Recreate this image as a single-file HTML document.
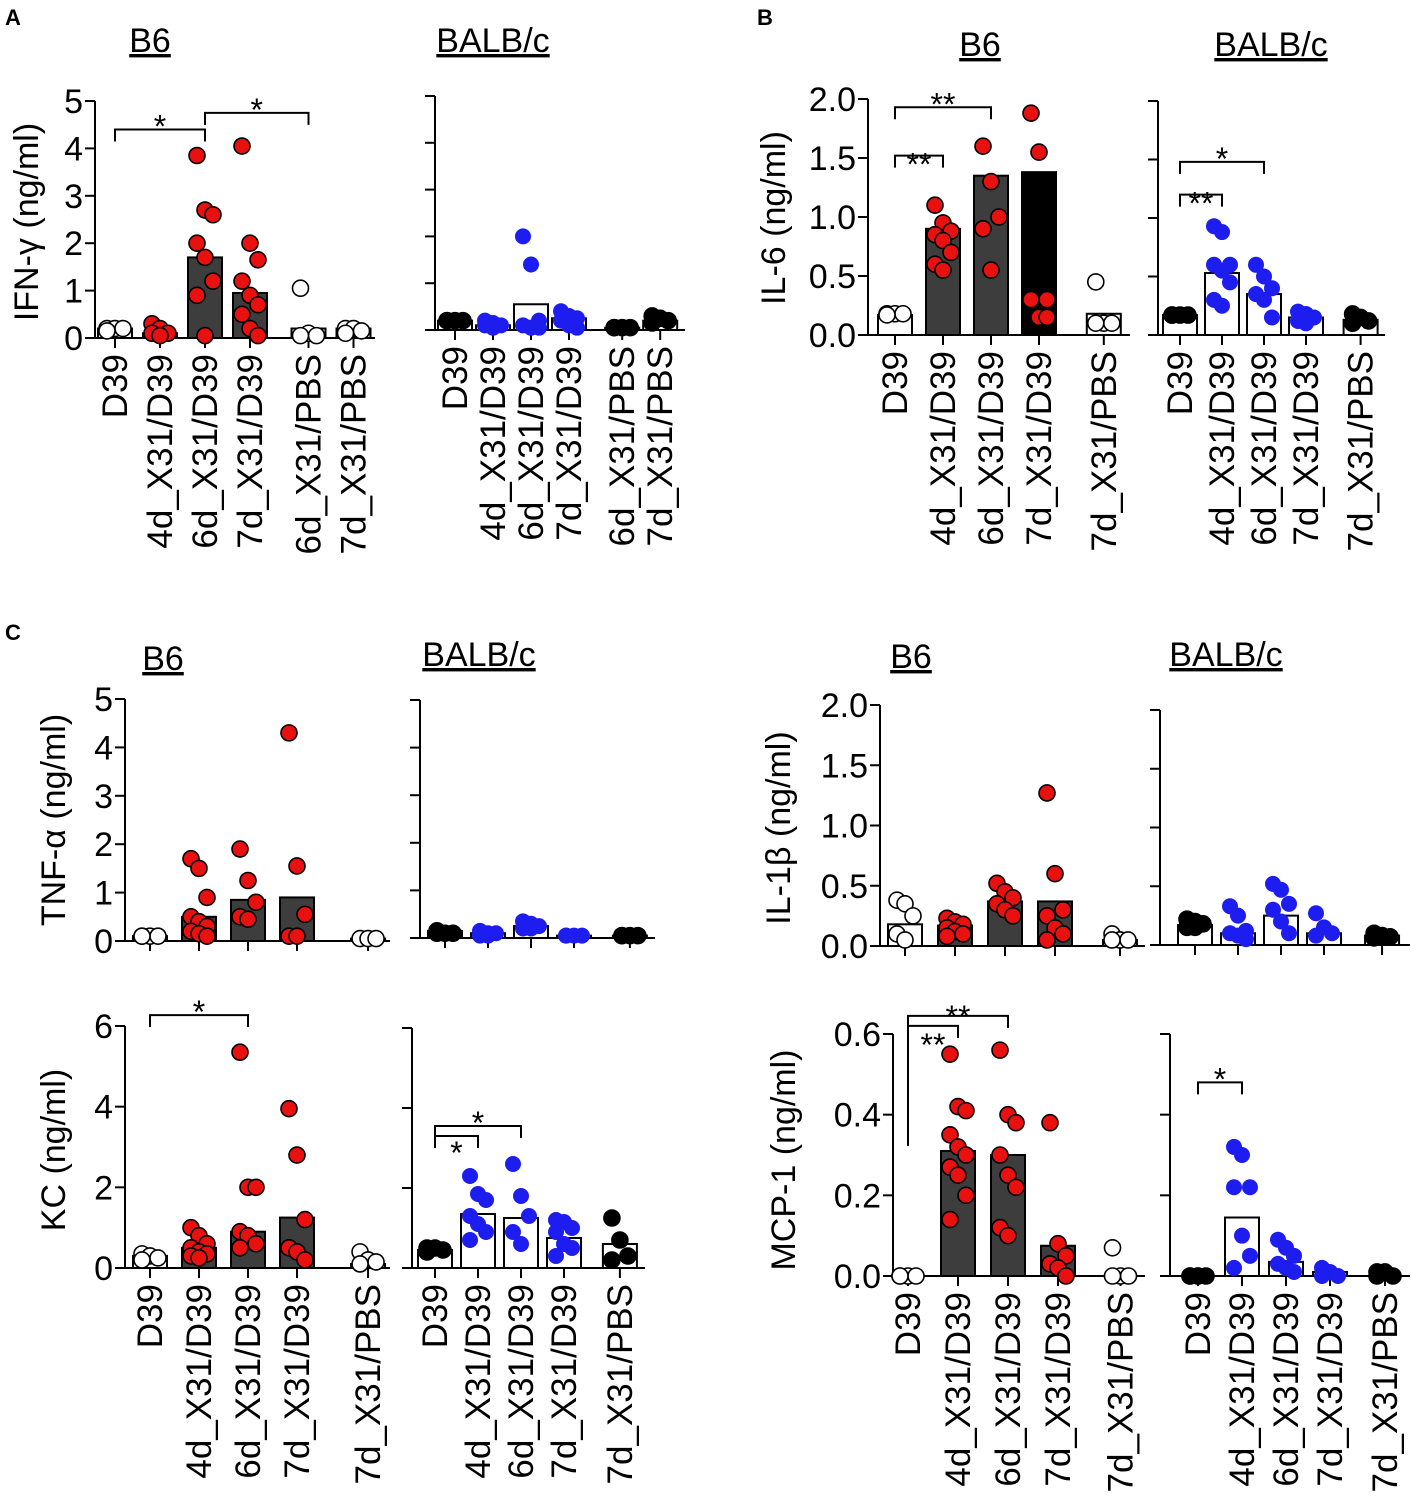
<!DOCTYPE html>
<html><head><meta charset="utf-8"><style>
body{margin:0;background:#fff}
svg{display:block;font-family:"Liberation Sans",Arial,sans-serif}
</style></head><body>
<svg id="fig" width="1413" height="1506" viewBox="0 0 1413 1506"></svg>
<script>
// ---- data (ng/ml) ----
const cats6 = ['D39','4d_X31/D39','6d_X31/D39','7d_X31/D39','6d_X31/PBS','7d_X31/PBS'];
const cats5 = ['D39','4d_X31/D39','6d_X31/D39','7d_X31/D39','7d_X31/PBS'];

const ifnB6Pts = [[0.2,0.2,0.2,0.15],[0.3,0.2,0.1,0.1,0.05],[3.85,2.7,2.6,2.0,1.7,1.2,0.9,0.05],[4.05,2.0,1.65,1.2,0.9,0.7,0.5,0.2,0.05],[1.05,0.1,0.05,0.05],[0.2,0.2,0.15,0.1]];
const ifnB6Bars = [0.2,0.1,1.7,0.95,0.2,0.2];
const ifnBalbPts = [[0.2,0.2,0.2,0.2],[0.2,0.15,0.1,0.1,0.05],[2.0,1.4,0.2,0.1,0.05,0.05],[0.4,0.3,0.25,0.2,0.1,0.05],[0.05,0.05,0.05,0.05],[0.3,0.25,0.2,0.15]];
const ifnBalbBars = [0.2,0.1,0.55,0.25,0.05,0.2];

const il6B6Pts = [[0.18,0.18,0.18,0.17],[1.1,0.95,0.88,0.85,0.8,0.7,0.6,0.55],[1.6,1.3,1.0,0.9,0.55],[1.88,1.55,0.3,0.3,0.15,0.15],[0.45,0.1,0.1,0.1]];
const il6B6Bars = [0.17,0.9,1.35,1.38,0.18];
const il6BalbPts = [[0.17,0.17,0.17,0.17],[0.93,0.88,0.6,0.6,0.55,0.45,0.3,0.25],[0.6,0.5,0.4,0.35,0.3,0.15],[0.2,0.18,0.15,0.12,0.1],[0.18,0.15,0.12,0.1]];
const il6BalbBars = [0.17,0.53,0.35,0.15,0.13];

const tnfB6Pts = [[0.1,0.1,0.1,0.1],[1.7,1.5,0.9,0.5,0.4,0.3,0.2,0.15,0.1],[1.9,1.25,0.8,0.5,0.45],[4.3,1.55,0.55,0.1,0.1],[0.05,0.05,0.05]];
const tnfB6Bars = [0.1,0.5,0.85,0.9,0.05];
const tnfBalbPts = [[0.15,0.1,0.1,0.1],[0.15,0.1,0.1,0.05,0.05],[0.35,0.3,0.25,0.2,0.2],[0.05,0.05,0.05,0.05],[0.05,0.05,0.05,0.05]];
const tnfBalbBars = [0.15,0.1,0.25,0.05,0.05];

const il1B6Pts = [[0.38,0.35,0.25,0.1,0.05],[0.23,0.2,0.18,0.15,0.12,0.1,0.08],[0.52,0.45,0.4,0.35,0.3,0.25],[1.27,0.6,0.3,0.25,0.15,0.1,0.05],[0.1,0.05,0.05,0.05]];
const il1B6Bars = [0.18,0.17,0.37,0.37,0.05];
const il1BalbPts = [[0.22,0.2,0.18,0.15,0.15],[0.33,0.25,0.12,0.1,0.08,0.05],[0.52,0.47,0.35,0.3,0.2,0.1],[0.27,0.15,0.1,0.08],[0.1,0.08,0.07,0.06]];
const il1BalbBars = [0.17,0.1,0.25,0.1,0.08];

const kcB6Pts = [[0.35,0.3,0.25,0.2],[1.0,0.8,0.6,0.5,0.4,0.35,0.3,0.25],[5.35,2.0,2.0,0.9,0.8,0.6,0.5],[3.95,2.8,1.2,0.5,0.4,0.2],[0.4,0.2,0.15,0.1]];
const kcB6Bars = [0.3,0.5,0.9,1.25,0.1];
const kcBalbPts = [[0.5,0.5,0.45,0.4],[2.3,1.85,1.7,1.3,1.1,0.9,0.7],[2.6,1.8,1.3,0.9,0.6],[1.2,1.15,1.0,0.9,0.6,0.5,0.3],[1.25,0.7,0.3,0.2]];
const kcBalbBars = [0.45,1.35,1.25,0.75,0.6];

const mcpB6Pts = [[0,0,0,0],[0.55,0.42,0.41,0.35,0.32,0.3,0.27,0.25,0.2,0.14],[0.56,0.4,0.38,0.3,0.25,0.22,0.12,0.1],[0.38,0.08,0.05,0.03,0.02,0.0],[0.07,0,0,0]];
const mcpB6Bars = [0,0.31,0.3,0.075,0];
const mcpBalbPts = [[0,0,0,0,0],[0.32,0.3,0.22,0.22,0.1,0.05,0.02],[0.09,0.07,0.05,0.03,0.02,0.01],[0.02,0.01,0,0],[0.01,0.01,0,0]];
const mcpBalbBars = [0,0.145,0.035,0.01,0];

// ---- drawing ----
const NS='http://www.w3.org/2000/svg';
const svg=document.getElementById('fig');
function mk(tag,attrs,parent,txt){const e=document.createElementNS(NS,tag);for(const k in attrs)e.setAttribute(k,attrs[k]);if(txt!==undefined)e.textContent=txt;(parent||svg).appendChild(e);return e;}

function panel(c){
  const g=mk('g',{});
  
  
  const ys=v=>c.y0-v/c.max*(c.y0-c.yTop);
  const xs=i=>c.x0+c.slots[i]*c.step;
  mk('line',{x1:c.ax,y1:c.yTop,x2:c.ax,y2:c.y0,stroke:'#000','stroke-width':2},g);
  c.ticks.forEach((t,i)=>{
    const y=ys(t);
    mk('line',{x1:c.ax-10,y1:y,x2:c.ax,y2:y,stroke:'#000','stroke-width':2},g);
    if(c.tickLabels){const tl=mk('text',{x:c.ax-12,y:y+12,'text-anchor':'end','font-size':34},g,c.tickLabels[i]);
      
      }
  });
  mk('line',{x1:c.ax,y1:c.y0,x2:c.xEnd,y2:c.y0,stroke:'#000','stroke-width':2},g);
  c.cats.forEach((cat,i)=>{
    const x=xs(i);
    mk('line',{x1:x,y1:c.y0,x2:x,y2:c.y0+10,stroke:'#000','stroke-width':2},g);
    const kind=c.barKinds[i];
    const bh=c.y0-ys(c.bars[i]);
    const b=mk('rect',{x:x-17,y:ys(c.bars[i]),width:34,height:Math.max(bh,0),fill:kind==='w'?'#fff':(kind==='k'?'#000':'#3d3d3d'),stroke:'#000','stroke-width':2},g);
    
    
    const pts=c.pts[i];
    const pc=c.ptKinds[i];
    pts.forEach((v,j)=>{
      const off=((j%3)-1)*8;
      const p=mk('circle',{cx:x+off,cy:ys(v),r:8,fill:pc==='w'?'#fff':pc==='r'?'#e8110f':pc==='b'?'#1d1df0':'#000',stroke:pc==='b'?'#1d1df0':'#000','stroke-width':pc==='b'?0:1.6},g);
      
      
    });
    if(c.xlab){
      const t=mk('text',{x:0,y:0,'text-anchor':'end','font-size':35,transform:`translate(${x+12},${c.y0+16}) rotate(-90)`},g,cat);
      
      
    }
  });
  (c.sig||[]).forEach(s=>{
    const y=ys(s.v), x1=xs(s.a), x2=xs(s.b);
    mk('path',{d:`M${x1},${y+(s.leg1||12)} L${x1},${y} L${x2},${y} L${x2},${y+12}`,fill:'none',stroke:'#000','stroke-width':2},g);
    const t=mk('text',{x:(x1+x2)/2,y:y+(s.dy||8),'text-anchor':'middle','font-size':32},g,s.t);
    
    
  });
  if(c.title){const t=mk('text',{x:c.title[1],y:c.title[2],'text-anchor':'middle','font-size':34,'text-decoration':'underline'},g,c.title[0]);
    
    }
  if(c.ytitle){const t=mk('text',{x:0,y:0,'text-anchor':'middle','font-size':34,transform:`translate(${c.ytitle[1]},${c.ytitle[2]}) rotate(-90)`},g,c.ytitle[0]);
    
    }
}
const bk6=['w','d','d','d','w','w'], bk5=['w','d','d','d','w'];
const ww6=['w','w','w','w','w','w'], ww5=['w','w','w','w','w'];
const pB6=['w','r','r','r','w','w'], pB5=['w','r','r','r','w'];
const pC6=['k','b','b','b','k','k'], pC5=['k','b','b','b','k'];
const t5=[0,1,2,3,4,5], tl5=['0','1','2','3','4','5'];
const s5=[0,1,2,3,4.4], s6=[0,1,2,3,4.3,5.3];

panel({name:'ifn-b6',ax:95,y0:338,yTop:101,max:5,ticks:t5,tickLabels:tl5,x0:115,step:45,slots:s6,xEnd:375,cats:cats6,bars:ifnB6Bars,pts:ifnB6Pts,barKinds:bk6,ptKinds:pB6,xlab:true,title:['B6',150,52],ytitle:['IFN-γ (ng/ml)',38,222],sig:[{a:0,b:2,v:4.4,t:'*'},{a:2,b:4,v:4.75,t:'*'}]});
panel({name:'ifn-balb',ax:435,y0:330,yTop:96,max:5,ticks:t5,x0:455,step:38,slots:[0,1,2,3,4.4,5.4],xEnd:685,cats:cats6,bars:ifnBalbBars,pts:ifnBalbPts,barKinds:ww6,ptKinds:pC6,xlab:true,title:['BALB/c',493,52]});

const t2=[0,0.5,1,1.5,2], tl2=['0.0','0.5','1.0','1.5','2.0'];
panel({name:'il6-b6',ax:868,y0:335,yTop:99,max:2,ticks:t2,tickLabels:tl2,x0:895,step:48,slots:[0,1,2,3,4.35],xEnd:1130,cats:cats5,bars:il6B6Bars,pts:il6B6Pts,barKinds:['w','d','d','k','w'],ptKinds:pB5,xlab:true,title:['B6',980,56],ytitle:['IL-6 (ng/ml)',785,218],sig:[{a:0,b:1,v:1.52,t:'**',dy:20},{a:0,b:2,v:1.93,t:'**',dy:8}]});
panel({name:'il6-balb',ax:1158,y0:335,yTop:101,max:2,ticks:t2,x0:1180,step:42,slots:[0,1,2,3,4.3],xEnd:1385,cats:cats5,bars:il6BalbBars,pts:il6BalbPts,barKinds:ww5,ptKinds:pC5,xlab:true,title:['BALB/c',1271,56],sig:[{a:0,b:1,v:1.2,t:'**',dy:20},{a:0,b:2,v:1.48,t:'*',dy:8}]});

panel({name:'tnf-b6',ax:125,y0:941,yTop:699,max:5,ticks:t5,tickLabels:tl5,x0:150,step:49,slots:[0,1,2,3,4.45],xEnd:390,cats:cats5,bars:tnfB6Bars,pts:tnfB6Pts,barKinds:bk5,ptKinds:pB5,xlab:false,title:['B6',163,670],ytitle:['TNF-α (ng/ml)',65,820]});
panel({name:'tnf-balb',ax:420,y0:938,yTop:700,max:5,ticks:t5,x0:445,step:43,slots:[0,1,2,3,4.3],xEnd:655,cats:cats5,bars:tnfBalbBars,pts:tnfBalbPts,barKinds:ww5,ptKinds:pC5,xlab:false,title:['BALB/c',479,666]});

panel({name:'il1b-b6',ax:880,y0:946,yTop:705,max:2,ticks:t2,tickLabels:tl2,x0:905,step:50,slots:[0,1,2,3,4.3],xEnd:1145,cats:cats5,bars:il1B6Bars,pts:il1B6Pts,barKinds:bk5,ptKinds:pB5,xlab:false,title:['B6',911,668],ytitle:['IL-1β (ng/ml)',790,828]});
panel({name:'il1b-balb',ax:1160,y0:945,yTop:710,max:2,ticks:t2,x0:1195,step:43,slots:[0,1,2,3,4.35],xEnd:1410,cats:cats5,bars:il1BalbBars,pts:il1BalbPts,barKinds:ww5,ptKinds:pC5,xlab:false,title:['BALB/c',1226,666]});

const t6=[0,2,4,6], tl6=['0','2','4','6'];
panel({name:'kc-b6',ax:125,y0:1268,yTop:1026,max:6,ticks:t6,tickLabels:tl6,x0:150,step:49,slots:[0,1,2,3,4.45],xEnd:390,cats:cats5,bars:kcB6Bars,pts:kcB6Pts,barKinds:bk5,ptKinds:pB5,xlab:true,ytitle:['KC (ng/ml)',65,1150],sig:[{a:0,b:2,v:6.27,t:'*'}]});
panel({name:'kc-balb',ax:412,y0:1268,yTop:1028,max:6,ticks:t6,x0:435,step:43,slots:[0,1,2,3,4.3],xEnd:645,cats:cats5,bars:kcBalbBars,pts:kcBalbPts,barKinds:ww5,ptKinds:pC5,xlab:true,sig:[{a:0,b:1,v:3.3,t:'*',dy:28},{a:0,b:2,v:3.55,t:'*',dy:8}]});

const t06=[0,0.2,0.4,0.6], tl06=['0.0','0.2','0.4','0.6'];
panel({name:'mcp1-b6',ax:893,y0:1276,yTop:1034,max:0.6,ticks:t06,tickLabels:tl06,x0:908,step:50,slots:[0,1,2,3,4.25],xEnd:1145,cats:cats5,bars:mcpB6Bars,pts:mcpB6Pts,barKinds:bk5,ptKinds:pB5,xlab:true,ytitle:['MCP-1 (ng/ml)',795,1160],sig:[{a:0,b:1,v:0.62,t:'**',leg1:120,dy:30},{a:0,b:2,v:0.645,t:'**',leg1:12,dy:12}]});
panel({name:'mcp1-balb',ax:1170,y0:1276,yTop:1034,max:0.6,ticks:t06,x0:1198,step:44,slots:[0,1,2,3,4.25],xEnd:1410,cats:cats5,bars:mcpBalbBars,pts:mcpBalbPts,barKinds:ww5,ptKinds:pC5,xlab:true,sig:[{a:0,b:1,v:0.48,t:'*'}]});

[['A',5,25],['B',757,25],['C',5,640]].forEach(p=>{
  const t=mk('text',{x:p[1],y:p[2],'font-size':22,'font-weight':'bold'},svg,p[0]);
  
  
});
</script>
</body></html>
